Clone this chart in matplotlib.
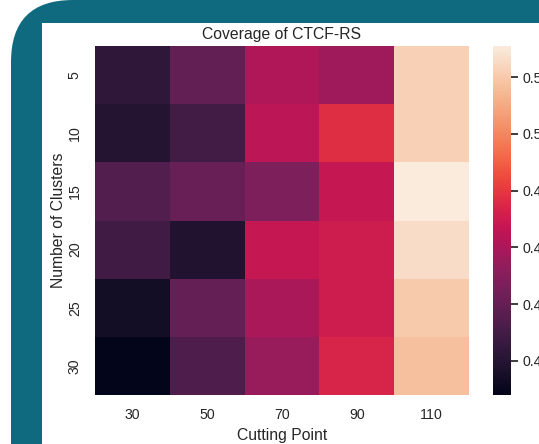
import matplotlib
matplotlib.use('Agg')
import matplotlib.pyplot as plt
import matplotlib.transforms as mtransforms
from matplotlib.patches import FancyBboxPatch, Rectangle
import numpy as np
import pandas as pd
import seaborn as sns

# coverage of CTCF-RS per (clusters, cutting point)
cutting_points = [30, 50, 70, 90, 110]
n_clusters = [5, 10, 15, 20, 25, 30]
cov_k5 = [0.423, 0.439, 0.461, 0.457, 0.522]
cov_k10 = [0.420, 0.430, 0.465, 0.477, 0.522]
cov_k15 = [0.434, 0.441, 0.447, 0.468, 0.531]
cov_k20 = [0.429, 0.419, 0.468, 0.470, 0.526]
cov_k25 = [0.414, 0.440, 0.460, 0.470, 0.520]
cov_k30 = [0.408, 0.433, 0.455, 0.474, 0.517]
cbar_ticks = [0.42, 0.44, 0.46, 0.48, 0.50, 0.52]

sns.set_theme(style='white')
plt.rcParams['font.family'] = ['Liberation Sans', 'DejaVu Sans']

W, H = 539, 444
fig = plt.figure(figsize=(W / 100, H / 100), dpi=100)
fig.patch.set_facecolor('white')

# slide frame: teal rounded border with white content area (pixel coords)
px = mtransforms.Affine2D().scale(1 / W, 1 / H) + fig.transFigure
frame = FancyBboxPatch((11, -200), 900, H + 200, boxstyle='round,pad=0,rounding_size=62',
                       transform=px, facecolor='#0f6a80', edgecolor='none', zorder=-2)
inner = Rectangle((42, -200), 900, H - 23 + 200, transform=px,
                  facecolor='white', edgecolor='none', zorder=-1)
fig.add_artist(frame)
fig.add_artist(inner)

df = pd.DataFrame([cov_k5, cov_k10, cov_k15, cov_k20, cov_k25, cov_k30],
                  index=n_clusters, columns=cutting_points)

ax = fig.add_axes([95 / W, (H - 395) / H, 374 / W, 349 / H])
cax = fig.add_axes([493 / W, (H - 395) / H, 18 / W, 349 / H])
sns.heatmap(df, ax=ax, cbar_ax=cax, cmap='rocket')

ax.set_title('Coverage of CTCF-RS', fontsize=11.3, color='#262626', pad=5)
ax.set_xlabel('Cutting Point', fontsize=11.3, color='#262626')
ax.set_ylabel('Number of Clusters', fontsize=11.3, color='#262626', labelpad=1)
ax.tick_params(axis='both', labelsize=10.2, colors='#262626')
ax.tick_params(axis='y', pad=3.5)
ax.set_yticklabels(n_clusters, rotation=90, va='center')

cax.set_yticks(cbar_ticks)
cax.set_yticklabels([f'{t:.2f}' for t in cbar_ticks])
cax.tick_params(labelsize=10.2, colors='#262626', length=5)

fig.savefig('out.png', dpi=100)
